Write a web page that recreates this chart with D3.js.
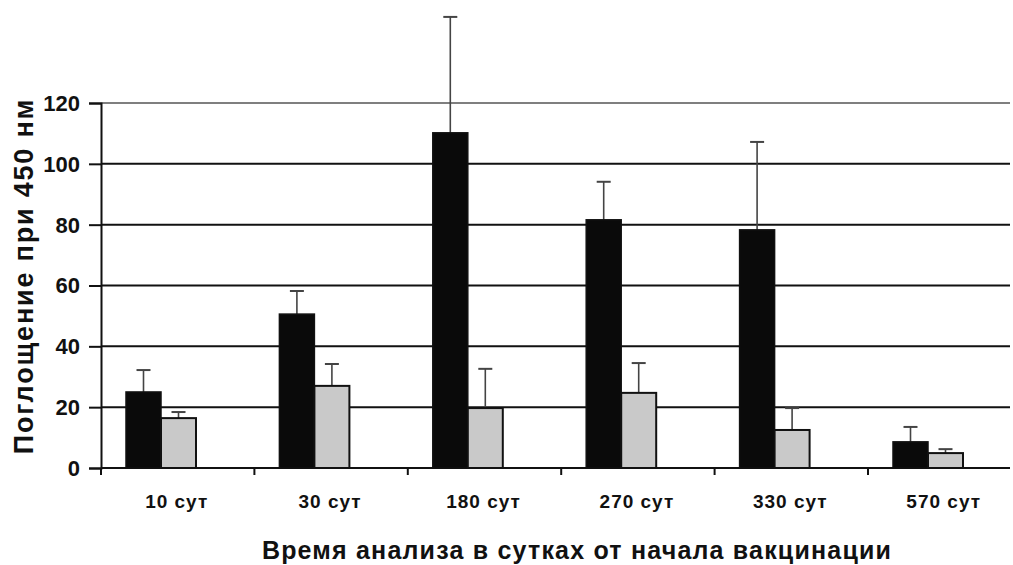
<!DOCTYPE html>
<html>
<head>
<meta charset="utf-8">
<script src="https://cdn.jsdelivr.net/npm/d3@7/dist/d3.min.js"></script>
<style>
  html, body { margin: 0; padding: 0; background: #fff; }
  svg { display: block; }
  text { font-family: "Liberation Sans", Arial, sans-serif; font-weight: bold; fill: #111; }
  .ytick { font-size: 22px; }
</style>
</head>
<body>
<svg id="chart" width="1013" height="565"></svg>
<script>
// Time points (days from start of vaccination)
const categories = ["10 сут", "30 сут", "180 сут", "270 сут", "330 сут", "570 сут"];
// Absorbance at 450 nm, two groups
const darkValues  = [25.0, 50.6, 110.2, 81.6, 78.3, 8.6];
const darkErrors  = [7.2, 7.6, 38.1, 12.5, 28.9, 4.9];
const lightValues = [16.4, 27.0, 19.7, 24.7, 12.5, 4.9];
const lightErrors = [2.0, 7.2, 12.9, 9.8, 7.2, 1.3];
const yTicks = [0, 20, 40, 60, 80, 100, 120];

const yLabel = "Поглощение при 450 нм";
const xLabel = "Время анализа в сутках от начала вакцинации";

const svg = d3.select("#chart");
const plotLeft = 101, plotRight = 1010, plotTop = 103, plotBottom = 468;
const bandStep = 153.4;

const x = d3.scaleBand()
  .domain(categories)
  .range([plotLeft, plotLeft + bandStep * categories.length])
  .padding(0);

const y = d3.scaleLinear().domain([0, 120]).range([plotBottom, plotTop]);

const barW = 35;
const barOffset = 25;

// Horizontal gridlines
svg.append("g")
  .selectAll("line")
  .data(yTicks.filter(d => d > 0))
  .join("line")
  .attr("x1", plotLeft).attr("x2", plotRight)
  .attr("y1", d => y(d)).attr("y2", d => y(d))
  .attr("stroke", d => d === 120 ? "#555" : "#111")
  .attr("stroke-width", d => d === 120 ? 1.3 : 2);

// Y axis: line and tick marks from the axis generator, labels drawn separately
const yAxis = svg.append("g")
  .attr("transform", `translate(${plotLeft},0)`)
  .call(d3.axisLeft(y).tickValues(yTicks).tickSize(12).tickFormat(""));
yAxis.select(".domain").attr("stroke", "#111").attr("stroke-width", 2);
yAxis.selectAll(".tick line").attr("stroke", "#111").attr("stroke-width", 2);

svg.append("g")
  .selectAll("text")
  .data(yTicks)
  .join("text")
  .attr("class", "ytick")
  .attr("x", plotLeft - 21)
  .attr("y", d => y(d))
  .attr("dy", "0.36em")
  .attr("text-anchor", "end")
  .text(d => d);

// X axis with boundary ticks
svg.append("line")
  .attr("x1", plotLeft).attr("x2", plotRight)
  .attr("y1", plotBottom).attr("y2", plotBottom)
  .attr("stroke", "#111").attr("stroke-width", 2);

svg.append("g")
  .selectAll("line")
  .data(categories)
  .join("line")
  .attr("x1", d => x(d)).attr("x2", d => x(d))
  .attr("y1", plotBottom).attr("y2", plotBottom + 7)
  .attr("stroke", "#111").attr("stroke-width", 2);

// Category labels
svg.append("g")
  .selectAll("text")
  .data(categories)
  .join("text")
  .attr("x", d => x(d) + x.bandwidth() / 2 - 1)
  .attr("y", 508)
  .attr("text-anchor", "middle")
  .style("font-size", "19px")
  .attr("letter-spacing", 1)
  .text(d => d);

// Error bars (upper whisker only)
function errorBars(values, errors, offset) {
  const g = svg.append("g");
  categories.forEach((c, i) => {
    const cx = x(c) + offset + barW / 2;
    const y0 = y(values[i]);
    const y1 = y(values[i] + errors[i]);
    g.append("line")
      .attr("x1", cx).attr("x2", cx).attr("y1", y0).attr("y2", y1)
      .attr("stroke", "#444").attr("stroke-width", 1.6);
    g.append("line")
      .attr("x1", cx - 7).attr("x2", cx + 7).attr("y1", y1).attr("y2", y1)
      .attr("stroke", "#444").attr("stroke-width", 2);
  });
}
errorBars(darkValues, darkErrors, barOffset);
errorBars(lightValues, lightErrors, barOffset + barW);

// Bars
svg.append("g")
  .selectAll("rect")
  .data(categories)
  .join("rect")
  .attr("x", d => x(d) + barOffset)
  .attr("y", (d, i) => y(darkValues[i]))
  .attr("width", barW)
  .attr("height", (d, i) => plotBottom - y(darkValues[i]))
  .attr("fill", "#0a0a0a")
  .attr("stroke", "#111").attr("stroke-width", 1.5);

svg.append("g")
  .selectAll("rect")
  .data(categories)
  .join("rect")
  .attr("x", d => x(d) + barOffset + barW)
  .attr("y", (d, i) => y(lightValues[i]))
  .attr("width", barW)
  .attr("height", (d, i) => plotBottom - y(lightValues[i]))
  .attr("fill", "#c9c9c9")
  .attr("stroke", "#111").attr("stroke-width", 2);

// Axis titles
svg.append("text")
  .attr("transform", `translate(33,276) rotate(-90)`)
  .attr("text-anchor", "middle")
  .style("font-size", "27px")
  .attr("letter-spacing", 1.8)
  .text(yLabel);

svg.append("text")
  .attr("x", 577)
  .attr("y", 559)
  .attr("text-anchor", "middle")
  .style("font-size", "25px")
  .attr("letter-spacing", 1.2)
  .text(xLabel);
</script>
</body>
</html>
